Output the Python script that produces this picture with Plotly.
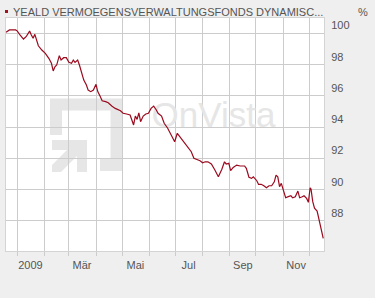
import plotly.graph_objects as go
import pandas as pd

# ---- data ----
dates = [
    "2008-12-19", "2008-12-23", "2008-12-30", "2009-01-01", "2009-01-04", "2009-01-08",
    "2009-01-11", "2009-01-15", "2009-01-17", "2009-01-19", "2009-01-21", "2009-01-23",
    "2009-01-25", "2009-01-29", "2009-02-02", "2009-02-06", "2009-02-09", "2009-02-11",
    "2009-02-13", "2009-02-15", "2009-02-18", "2009-02-20", "2009-02-23", "2009-02-26",
    "2009-03-01", "2009-03-04", "2009-03-06", "2009-03-08", "2009-03-11", "2009-03-13",
    "2009-03-16", "2009-03-18", "2009-03-21", "2009-03-23", "2009-03-26", "2009-03-29",
    "2009-04-01", "2009-04-03", "2009-04-06", "2009-04-08", "2009-04-12", "2009-04-15",
    "2009-04-19", "2009-04-23", "2009-04-29", "2009-05-02", "2009-05-06", "2009-05-10",
    "2009-05-14", "2009-05-16", "2009-05-18", "2009-05-20", "2009-05-22", "2009-05-25",
    "2009-05-28", "2009-05-31", "2009-06-03", "2009-06-06", "2009-06-09", "2009-06-11",
    "2009-06-15", "2009-06-18", "2009-06-22", "2009-06-25", "2009-06-30", "2009-07-03",
    "2009-07-06", "2009-07-10", "2009-07-14", "2009-07-16", "2009-07-19", "2009-07-22",
    "2009-07-26", "2009-07-29", "2009-08-01", "2009-08-04", "2009-08-07", "2009-08-11",
    "2009-08-15", "2009-08-19", "2009-08-23", "2009-08-26", "2009-08-28", "2009-08-31",
    "2009-09-02", "2009-09-05", "2009-09-09", "2009-09-13", "2009-09-18", "2009-09-20",
    "2009-09-23", "2009-09-26", "2009-09-28", "2009-10-02", "2009-10-04", "2009-10-07",
    "2009-10-10", "2009-10-13", "2009-10-16", "2009-10-19", "2009-10-22", "2009-10-24",
    "2009-10-26", "2009-10-28", "2009-10-30", "2009-11-01", "2009-11-04", "2009-11-07",
    "2009-11-10", "2009-11-12", "2009-11-15", "2009-11-18", "2009-11-20", "2009-11-23",
    "2009-11-25", "2009-11-28", "2009-11-30", "2009-12-02", "2009-12-03", "2009-12-05",
    "2009-12-07", "2009-12-10", "2009-12-13", "2009-12-15", "2009-12-17",
]
values = [
    100.05, 100.20, 100.20, 100.13, 99.88, 99.62,
    99.77, 100.13, 99.88, 99.67, 99.92, 99.56,
    99.19, 98.92, 98.71, 98.39, 98.07, 97.58,
    97.85, 97.96, 98.56, 98.28, 98.43, 98.43,
    98.13, 98.07, 98.28, 98.13, 98.28, 97.96,
    97.43, 97.00, 96.68, 96.36, 96.26, 96.36,
    96.73, 96.26, 95.94, 95.68, 95.62, 95.55,
    95.34, 95.19, 95.04, 94.88, 94.83, 94.77,
    94.13, 94.70, 94.49, 94.91, 94.34, 94.70,
    94.83, 94.88, 95.19, 95.34, 95.09, 94.88,
    94.70, 94.24, 93.92, 93.60, 93.06, 93.60,
    93.38, 93.06, 92.74, 92.64, 92.42, 92.00,
    91.94, 91.85, 91.72, 91.78, 91.78, 91.64,
    91.25, 90.82, 91.30, 91.78, 91.64, 91.68,
    91.21, 91.42, 91.57, 91.51, 91.51, 91.36,
    90.79, 90.72, 90.82, 90.57, 90.33, 90.34,
    90.25, 90.12, 90.25, 90.25, 90.50, 90.93,
    90.82, 90.19, 90.40, 89.97, 89.48, 89.55,
    89.61, 89.48, 89.55, 89.91, 89.48, 89.55,
    89.61, 89.44, 89.19, 90.12, 90.04, 89.23,
    88.81, 88.63, 87.85, 87.42, 86.89,
]
y_ticks = [88, 90, 92, 94, 96, 98, 100]
x_label_dates = ["2009-01-16", "2009-03-16", "2009-05-16", "2009-07-16", "2009-09-16", "2009-11-16"]
x_label_text = ["2009", "Mär", "Mai", "Jul", "Sep", "Nov"]
title_text = "YEALD VERMOEGENSVERWALTUNGSFONDS DYNAMISC..."
unit_text = "%"
watermark_text = "OnVista"

# ---- layout geometry / styles ----
W, H = 375, 298
ML, MR, MT, MB = 6, 51, 18, 47
PW, PH = W - ML - MR, H - MT - MB
X_RANGE = ["2008-12-19", "2009-12-17 21:00"]
Y_RANGE = [86.08, 100.965]
FONT = "Liberation Sans, Arial, sans-serif"
TXT = "#555555"
GRID = "#cccccc"
LINE = "#9b0a1e"
WM = "#e6e6e6"

def px(xp):
    return (xp - ML) / PW

def py(yp):
    return (H - MB - yp) / PH

x0 = pd.Timestamp(X_RANGE[0])
x1 = pd.Timestamp(X_RANGE[1])
def data_x(xp):
    return x0 + (x1 - x0) * px(xp)
def data_y(yp):
    return Y_RANGE[0] + (Y_RANGE[1] - Y_RANGE[0]) * py(yp)

fig = go.Figure()

# watermark text (drawn under the price line)
fig.add_trace(go.Scatter(
    x=[data_x(213.5)], y=[data_y(118)], mode="text", text=[watermark_text],
    textfont=dict(family="Liberation Sans, Arial", size=35, color=WM),
    textposition="middle center", hoverinfo="skip", cliponaxis=False,
))

fig.add_trace(go.Scatter(
    x=dates, y=values, mode="lines",
    line=dict(color=LINE, width=1.2), hoverinfo="skip",
))

def pth(points):
    s = "M " + " L ".join(f"{px(a):.4f},{py(b):.4f}" for a, b in points)
    return s

shapes = [
    # watermark bracket
    dict(type="path", xref="paper", yref="paper", layer="below",
         path=pth([(56, 135), (56, 104.5), (116.5, 104.5), (116.5, 165), (100, 165)]),
         line=dict(color=WM, width=12)),
    # watermark arrow
    dict(type="path", xref="paper", yref="paper", layer="below",
         path=pth([(52, 140), (87, 140), (87, 172), (77, 172), (77, 156), (61, 172),
                   (52, 172), (52, 165), (67, 150), (52, 150)]) + " Z",
         line=dict(width=0), fillcolor=WM),
    # title marker square
    dict(type="rect", xref="paper", yref="paper",
         x0=px(5), x1=px(8), y0=py(13), y1=py(10),
         line=dict(width=0), fillcolor="#a0141e"),
]

annotations = [
    dict(text=title_text, xref="paper", yref="paper", x=px(11), y=py(12),
         xanchor="left", yanchor="middle", showarrow=False,
         font=dict(family=FONT, size=11, color=TXT)),
    dict(text=unit_text, xref="paper", yref="paper", x=px(363), y=py(12),
         xanchor="center", yanchor="middle", showarrow=False,
         font=dict(family=FONT, size=11, color=TXT)),
]

fig.update_layout(
    width=W, height=H,
    margin=dict(l=ML, r=MR, t=MT, b=MB, pad=0),
    paper_bgcolor="#efefef", plot_bgcolor="white",
    showlegend=False, hovermode=False,
    shapes=shapes, annotations=annotations,
    font=dict(family=FONT, size=11, color=TXT),
    xaxis=dict(
        type="date", range=X_RANGE, fixedrange=True,
        tickmode="array", tickvals=x_label_dates, ticktext=x_label_text,
        showgrid=False, ticks="", ticklabelstandoff=4,
        tickfont=dict(family=FONT, size=11, color=TXT),
        showline=True, mirror=True, linecolor="#d4d4d4", linewidth=1,
        zeroline=False,
        minor=dict(tick0="2009-01-01", dtick="M1", showgrid=True, gridcolor=GRID,
                   gridwidth=1, ticks="outside", ticklen=4, tickcolor=GRID),
    ),
    yaxis=dict(
        range=Y_RANGE, fixedrange=True, side="right",
        tickmode="array", tickvals=y_ticks, ticks="",
        ticklabelposition="outside top", ticklabelstandoff=4,
        tickfont=dict(family=FONT, size=11, color=TXT),
        showgrid=True, gridcolor=GRID, gridwidth=1,
        showline=True, mirror=True, linecolor="#d4d4d4", linewidth=1,
        zeroline=False,
    ),
)

fig.write_html("out.html")
